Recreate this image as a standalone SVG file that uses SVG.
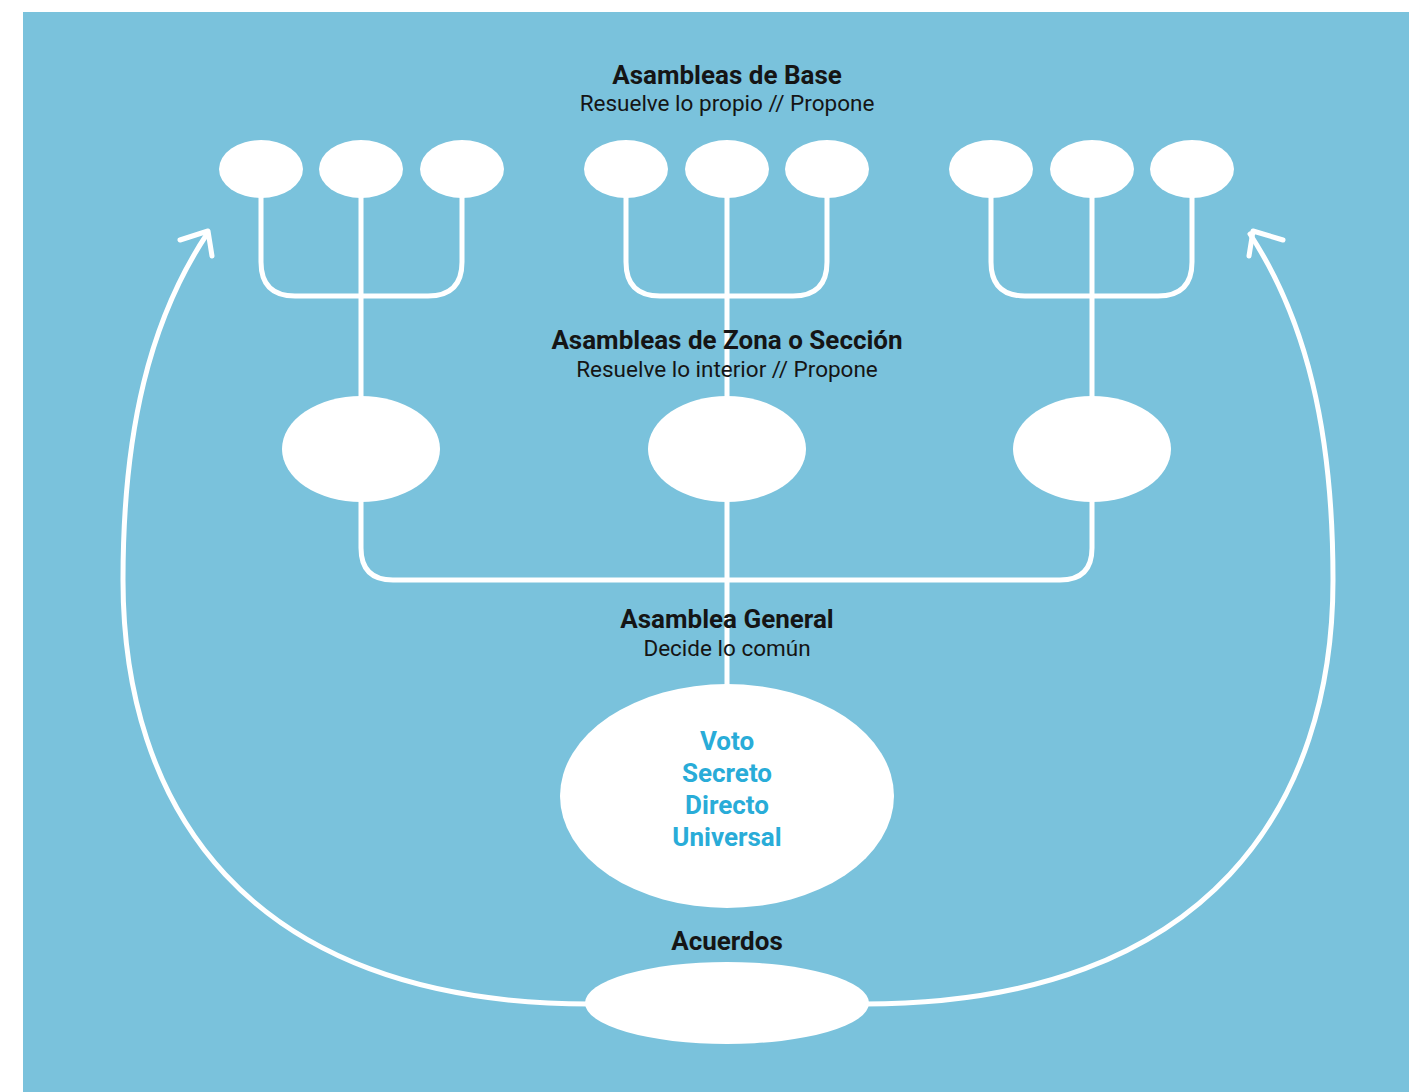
<svg xmlns="http://www.w3.org/2000/svg" width="1409" height="1092" viewBox="0 0 1409 1092">
<style>
.bg{fill:#7ac2dc}
.node{fill:#ffffff}
.ln{fill:none;stroke:#ffffff;stroke-width:5;stroke-linecap:round;stroke-linejoin:round}
.t{font-family:Roboto,"Liberation Sans",sans-serif;text-anchor:middle;fill:#151515}
.h{font-weight:bold;font-size:26px}
.s{font-size:22.5px}
.v{font-family:Roboto,"Liberation Sans",sans-serif;text-anchor:middle;font-weight:bold;font-size:26px;fill:#29acd8}
</style>
<rect x="0" y="0" width="1409" height="1092" fill="#ffffff"/>
<rect class="bg" x="23" y="12" width="1386" height="1080"/>
<g id="connectors">
<path class="ln" d="M261,190 V262 Q261,296 295,296 H428 Q462,296 462,262 V190"/>
<path class="ln" d="M361,190 V410"/>
<path class="ln" d="M626,190 V262 Q626,296 660,296 H793 Q827,296 827,262 V190"/>
<path class="ln" d="M727,190 V410"/>
<path class="ln" d="M991,190 V262 Q991,296 1025,296 H1158 Q1192,296 1192,262 V190"/>
<path class="ln" d="M1092,190 V410"/>
<path class="ln" d="M361,490 V548 Q361,580 393,580 H1060 Q1092,580 1092,548 V490"/>
<path class="ln" d="M727,490 V700"/>
<path class="ln" d="M590,1004 C 240,1004 123,800 123,580 C 123,430 150,320 207,234"/>
<path class="ln" d="M180,240 L208,231 L212,256"/>
<path class="ln" d="M864,1004 C 1214,1004 1333,800 1333,580 C 1333,430 1306,320 1250,234"/>
<path class="ln" d="M1283,240 L1253,231 L1249,256"/>
</g>
<g id="base1"><ellipse class="node" cx="261" cy="169" rx="42" ry="29"/></g>
<g id="base2"><ellipse class="node" cx="361" cy="169" rx="42" ry="29"/></g>
<g id="base3"><ellipse class="node" cx="462" cy="169" rx="42" ry="29"/></g>
<g id="base4"><ellipse class="node" cx="626" cy="169" rx="42" ry="29"/></g>
<g id="base5"><ellipse class="node" cx="727" cy="169" rx="42" ry="29"/></g>
<g id="base6"><ellipse class="node" cx="827" cy="169" rx="42" ry="29"/></g>
<g id="base7"><ellipse class="node" cx="991" cy="169" rx="42" ry="29"/></g>
<g id="base8"><ellipse class="node" cx="1092" cy="169" rx="42" ry="29"/></g>
<g id="base9"><ellipse class="node" cx="1192" cy="169" rx="42" ry="29"/></g>
<g id="zona1"><ellipse class="node" cx="361" cy="449" rx="79" ry="53"/></g>
<g id="zona2"><ellipse class="node" cx="727" cy="449" rx="79" ry="53"/></g>
<g id="zona3"><ellipse class="node" cx="1092" cy="449" rx="79" ry="53"/></g>
<g id="general">
<ellipse class="node" cx="727" cy="796" rx="167" ry="112"/>
<text class="v" x="727" y="750">Voto</text>
<text class="v" x="727" y="782">Secreto</text>
<text class="v" x="727" y="814">Directo</text>
<text class="v" x="727" y="846">Universal</text>
</g>
<g id="acuerdos"><ellipse class="node" cx="727" cy="1003" rx="142" ry="41"/></g>
<g id="labels">
<text class="t h" x="727" y="84">Asambleas de Base</text>
<text class="t s" x="727" y="111">Resuelve lo propio // Propone</text>
<text class="t h" x="727" y="349">Asambleas de Zona o Sección</text>
<text class="t s" x="727" y="377">Resuelve lo interior // Propone</text>
<text class="t h" x="727" y="628">Asamblea General</text>
<text class="t s" x="727" y="656">Decide lo común</text>
<text class="t h" x="727" y="950">Acuerdos</text>
</g>
</svg>
